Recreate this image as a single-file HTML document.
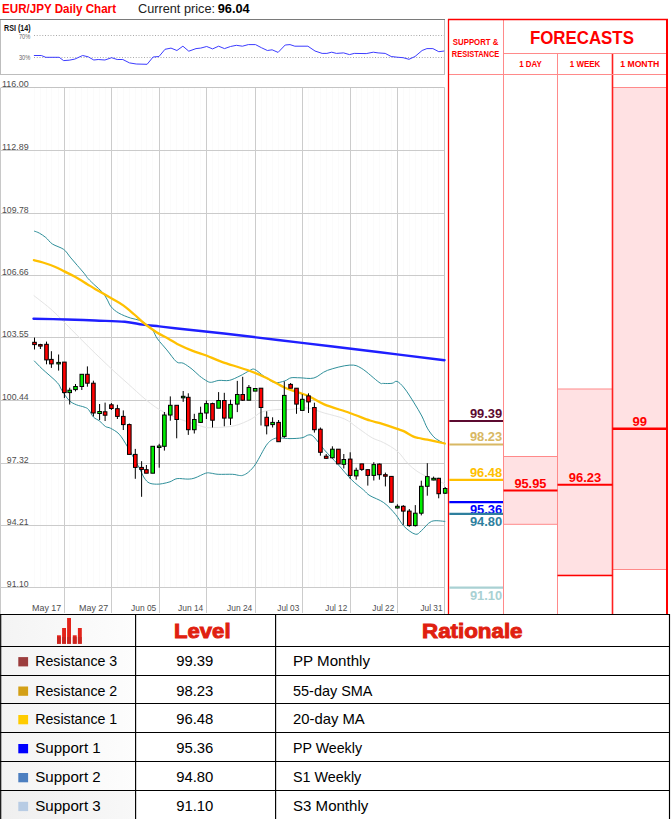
<!DOCTYPE html>
<html><head><meta charset="utf-8"><style>
html,body{margin:0;padding:0;background:#fff;}
body{width:672px;height:819px;overflow:hidden;}
svg{display:block;font-family:"Liberation Sans", sans-serif;}
</style></head><body>
<svg width="672" height="819" viewBox="0 0 672 819">
<text x="2" y="12.8" font-size="12.5" fill="#ff0000" font-weight="bold" text-anchor="start" textLength="114" lengthAdjust="spacingAndGlyphs" >EUR/JPY Daily Chart</text>
<text x="138" y="12.8" font-size="12.5" fill="#222" font-weight="normal" text-anchor="start" textLength="77" lengthAdjust="spacingAndGlyphs" >Current price:</text>
<text x="217.7" y="12.8" font-size="12.5" fill="#000" font-weight="bold" text-anchor="start" textLength="32" lengthAdjust="spacingAndGlyphs" >96.04</text>
<rect x="0.5" y="19.5" width="444" height="55" fill="#fff" stroke="#bdbdbd" stroke-width="1"/>
<line x1="0" y1="19.5" x2="445" y2="19.5" stroke="#7a7a7a" stroke-width="1.2"/>
<text x="4" y="31.2" font-size="8.7" fill="#111" font-weight="bold" text-anchor="start" textLength="26.6" lengthAdjust="spacingAndGlyphs" >RSI (14)</text>
<text x="30.2" y="39" font-size="7.2" fill="#666" font-weight="normal" text-anchor="end" textLength="11.3" lengthAdjust="spacingAndGlyphs" >70%</text>
<text x="30.2" y="60.1" font-size="7.2" fill="#666" font-weight="normal" text-anchor="end" textLength="11.3" lengthAdjust="spacingAndGlyphs" >30%</text>
<line x1="34" y1="35.5" x2="444" y2="35.5" stroke="#a8a8a8" stroke-width="1" stroke-dasharray="1,1.75"/>
<line x1="34" y1="57.5" x2="444" y2="57.5" stroke="#a8a8a8" stroke-width="1" stroke-dasharray="1,1.75"/>
<polyline fill="none" stroke="#3c3cff" stroke-width="1.0" stroke-linejoin="round" points="33.9,55.5 41.3,55.5 45.8,57.3 59.2,57.3 63.6,60.6 69.2,60.2 74.8,59.1 82.6,55.5 88.2,56.8 93.8,60 98.2,59.5 104.9,60 111.6,57.7 117.2,59.5 122.8,59.5 129.5,62.9 136.2,64 147.1,64.3 153.1,57 159,56.5 165,49.3 171,48.1 176.9,50.5 182.9,46.2 188.8,51.2 196,48.6 200.7,48.1 206.7,46.5 212.6,48.9 218.6,46.2 224.5,48.6 230.5,46.5 236.4,45.3 242.4,46.2 248.3,44.6 255.5,44.6 261.4,47.7 267.4,50.5 272.1,49.8 278.1,52.4 285.2,45 290,44.6 294.8,46.2 307.9,46.2 315,51 322.1,53.4 326.9,53.4 331.7,52.2 336.4,53.4 343.6,52.9 349.5,54.6 354.3,53.4 366.2,53.6 373.3,52.2 378.1,52.9 385.2,53.4 391.2,56.5 397.1,57.2 403.1,57.7 409,59.3 415,56.5 422.1,50.5 426.9,48.6 432.9,48.6 438.8,51.7 444.3,51"/>
<line x1="34.5" y1="87.5" x2="34.5" y2="587.5" stroke="#fbfbfb" stroke-width="1"/>
<line x1="40.5" y1="87.5" x2="40.5" y2="587.5" stroke="#fbfbfb" stroke-width="1"/>
<line x1="46.5" y1="87.5" x2="46.5" y2="587.5" stroke="#fbfbfb" stroke-width="1"/>
<line x1="51.5" y1="87.5" x2="51.5" y2="587.5" stroke="#fbfbfb" stroke-width="1"/>
<line x1="58.5" y1="87.5" x2="58.5" y2="587.5" stroke="#fbfbfb" stroke-width="1"/>
<line x1="64.5" y1="87.5" x2="64.5" y2="587.5" stroke="#fbfbfb" stroke-width="1"/>
<line x1="69.5" y1="87.5" x2="69.5" y2="587.5" stroke="#fbfbfb" stroke-width="1"/>
<line x1="75.5" y1="87.5" x2="75.5" y2="587.5" stroke="#fbfbfb" stroke-width="1"/>
<line x1="81.5" y1="87.5" x2="81.5" y2="587.5" stroke="#fbfbfb" stroke-width="1"/>
<line x1="87.5" y1="87.5" x2="87.5" y2="587.5" stroke="#fbfbfb" stroke-width="1"/>
<line x1="93.5" y1="87.5" x2="93.5" y2="587.5" stroke="#fbfbfb" stroke-width="1"/>
<line x1="99.5" y1="87.5" x2="99.5" y2="587.5" stroke="#fbfbfb" stroke-width="1"/>
<line x1="105.5" y1="87.5" x2="105.5" y2="587.5" stroke="#fbfbfb" stroke-width="1"/>
<line x1="111.5" y1="87.5" x2="111.5" y2="587.5" stroke="#fbfbfb" stroke-width="1"/>
<line x1="117.5" y1="87.5" x2="117.5" y2="587.5" stroke="#fbfbfb" stroke-width="1"/>
<line x1="123.5" y1="87.5" x2="123.5" y2="587.5" stroke="#fbfbfb" stroke-width="1"/>
<line x1="129.5" y1="87.5" x2="129.5" y2="587.5" stroke="#fbfbfb" stroke-width="1"/>
<line x1="135.5" y1="87.5" x2="135.5" y2="587.5" stroke="#fbfbfb" stroke-width="1"/>
<line x1="141.5" y1="87.5" x2="141.5" y2="587.5" stroke="#fbfbfb" stroke-width="1"/>
<line x1="146.5" y1="87.5" x2="146.5" y2="587.5" stroke="#fbfbfb" stroke-width="1"/>
<line x1="152.5" y1="87.5" x2="152.5" y2="587.5" stroke="#fbfbfb" stroke-width="1"/>
<line x1="159.5" y1="87.5" x2="159.5" y2="587.5" stroke="#fbfbfb" stroke-width="1"/>
<line x1="164.5" y1="87.5" x2="164.5" y2="587.5" stroke="#fbfbfb" stroke-width="1"/>
<line x1="170.5" y1="87.5" x2="170.5" y2="587.5" stroke="#fbfbfb" stroke-width="1"/>
<line x1="176.5" y1="87.5" x2="176.5" y2="587.5" stroke="#fbfbfb" stroke-width="1"/>
<line x1="183.5" y1="87.5" x2="183.5" y2="587.5" stroke="#fbfbfb" stroke-width="1"/>
<line x1="188.5" y1="87.5" x2="188.5" y2="587.5" stroke="#fbfbfb" stroke-width="1"/>
<line x1="194.5" y1="87.5" x2="194.5" y2="587.5" stroke="#fbfbfb" stroke-width="1"/>
<line x1="200.5" y1="87.5" x2="200.5" y2="587.5" stroke="#fbfbfb" stroke-width="1"/>
<line x1="206.5" y1="87.5" x2="206.5" y2="587.5" stroke="#fbfbfb" stroke-width="1"/>
<line x1="212.5" y1="87.5" x2="212.5" y2="587.5" stroke="#fbfbfb" stroke-width="1"/>
<line x1="218.5" y1="87.5" x2="218.5" y2="587.5" stroke="#fbfbfb" stroke-width="1"/>
<line x1="224.5" y1="87.5" x2="224.5" y2="587.5" stroke="#fbfbfb" stroke-width="1"/>
<line x1="230.5" y1="87.5" x2="230.5" y2="587.5" stroke="#fbfbfb" stroke-width="1"/>
<line x1="237.5" y1="87.5" x2="237.5" y2="587.5" stroke="#fbfbfb" stroke-width="1"/>
<line x1="242.5" y1="87.5" x2="242.5" y2="587.5" stroke="#fbfbfb" stroke-width="1"/>
<line x1="248.5" y1="87.5" x2="248.5" y2="587.5" stroke="#fbfbfb" stroke-width="1"/>
<line x1="255.5" y1="87.5" x2="255.5" y2="587.5" stroke="#fbfbfb" stroke-width="1"/>
<line x1="261.5" y1="87.5" x2="261.5" y2="587.5" stroke="#fbfbfb" stroke-width="1"/>
<line x1="266.5" y1="87.5" x2="266.5" y2="587.5" stroke="#fbfbfb" stroke-width="1"/>
<line x1="272.5" y1="87.5" x2="272.5" y2="587.5" stroke="#fbfbfb" stroke-width="1"/>
<line x1="278.5" y1="87.5" x2="278.5" y2="587.5" stroke="#fbfbfb" stroke-width="1"/>
<line x1="284.5" y1="87.5" x2="284.5" y2="587.5" stroke="#fbfbfb" stroke-width="1"/>
<line x1="290.5" y1="87.5" x2="290.5" y2="587.5" stroke="#fbfbfb" stroke-width="1"/>
<line x1="296.5" y1="87.5" x2="296.5" y2="587.5" stroke="#fbfbfb" stroke-width="1"/>
<line x1="302.5" y1="87.5" x2="302.5" y2="587.5" stroke="#fbfbfb" stroke-width="1"/>
<line x1="308.5" y1="87.5" x2="308.5" y2="587.5" stroke="#fbfbfb" stroke-width="1"/>
<line x1="314.5" y1="87.5" x2="314.5" y2="587.5" stroke="#fbfbfb" stroke-width="1"/>
<line x1="320.5" y1="87.5" x2="320.5" y2="587.5" stroke="#fbfbfb" stroke-width="1"/>
<line x1="326.5" y1="87.5" x2="326.5" y2="587.5" stroke="#fbfbfb" stroke-width="1"/>
<line x1="332.5" y1="87.5" x2="332.5" y2="587.5" stroke="#fbfbfb" stroke-width="1"/>
<line x1="338.5" y1="87.5" x2="338.5" y2="587.5" stroke="#fbfbfb" stroke-width="1"/>
<line x1="343.5" y1="87.5" x2="343.5" y2="587.5" stroke="#fbfbfb" stroke-width="1"/>
<line x1="350.5" y1="87.5" x2="350.5" y2="587.5" stroke="#fbfbfb" stroke-width="1"/>
<line x1="356.5" y1="87.5" x2="356.5" y2="587.5" stroke="#fbfbfb" stroke-width="1"/>
<line x1="361.5" y1="87.5" x2="361.5" y2="587.5" stroke="#fbfbfb" stroke-width="1"/>
<line x1="367.5" y1="87.5" x2="367.5" y2="587.5" stroke="#fbfbfb" stroke-width="1"/>
<line x1="373.5" y1="87.5" x2="373.5" y2="587.5" stroke="#fbfbfb" stroke-width="1"/>
<line x1="379.5" y1="87.5" x2="379.5" y2="587.5" stroke="#fbfbfb" stroke-width="1"/>
<line x1="385.5" y1="87.5" x2="385.5" y2="587.5" stroke="#fbfbfb" stroke-width="1"/>
<line x1="391.5" y1="87.5" x2="391.5" y2="587.5" stroke="#fbfbfb" stroke-width="1"/>
<line x1="397.5" y1="87.5" x2="397.5" y2="587.5" stroke="#fbfbfb" stroke-width="1"/>
<line x1="403.5" y1="87.5" x2="403.5" y2="587.5" stroke="#fbfbfb" stroke-width="1"/>
<line x1="409.5" y1="87.5" x2="409.5" y2="587.5" stroke="#fbfbfb" stroke-width="1"/>
<line x1="415.5" y1="87.5" x2="415.5" y2="587.5" stroke="#fbfbfb" stroke-width="1"/>
<line x1="421.5" y1="87.5" x2="421.5" y2="587.5" stroke="#fbfbfb" stroke-width="1"/>
<line x1="427.5" y1="87.5" x2="427.5" y2="587.5" stroke="#fbfbfb" stroke-width="1"/>
<line x1="433.5" y1="87.5" x2="433.5" y2="587.5" stroke="#fbfbfb" stroke-width="1"/>
<line x1="438.5" y1="87.5" x2="438.5" y2="587.5" stroke="#fbfbfb" stroke-width="1"/>
<line x1="1" y1="87.5" x2="444.5" y2="87.5" stroke="#cbcbcb" stroke-width="1"/>
<text x="28.6" y="86.6" font-size="9.3" fill="#4d4d4d" font-weight="normal" text-anchor="end" textLength="26.6" lengthAdjust="spacingAndGlyphs" >116.00</text>
<line x1="1" y1="150.5" x2="444.5" y2="150.5" stroke="#cbcbcb" stroke-width="1"/>
<text x="28.6" y="149.6" font-size="9.3" fill="#4d4d4d" font-weight="normal" text-anchor="end" textLength="26.6" lengthAdjust="spacingAndGlyphs" >112.89</text>
<line x1="1" y1="213.5" x2="444.5" y2="213.5" stroke="#cbcbcb" stroke-width="1"/>
<text x="28.6" y="212.6" font-size="9.3" fill="#4d4d4d" font-weight="normal" text-anchor="end" textLength="26.6" lengthAdjust="spacingAndGlyphs" >109.78</text>
<line x1="1" y1="275.5" x2="444.5" y2="275.5" stroke="#cbcbcb" stroke-width="1"/>
<text x="28.6" y="274.6" font-size="9.3" fill="#4d4d4d" font-weight="normal" text-anchor="end" textLength="26.6" lengthAdjust="spacingAndGlyphs" >106.66</text>
<line x1="1" y1="337.5" x2="444.5" y2="337.5" stroke="#cbcbcb" stroke-width="1"/>
<text x="28.6" y="336.6" font-size="9.3" fill="#4d4d4d" font-weight="normal" text-anchor="end" textLength="26.6" lengthAdjust="spacingAndGlyphs" >103.55</text>
<line x1="1" y1="400.5" x2="444.5" y2="400.5" stroke="#cbcbcb" stroke-width="1"/>
<text x="28.6" y="399.6" font-size="9.3" fill="#4d4d4d" font-weight="normal" text-anchor="end" textLength="26.6" lengthAdjust="spacingAndGlyphs" >100.44</text>
<line x1="1" y1="463.5" x2="444.5" y2="463.5" stroke="#cbcbcb" stroke-width="1"/>
<text x="28.6" y="462.6" font-size="9.3" fill="#4d4d4d" font-weight="normal" text-anchor="end" textLength="21.8" lengthAdjust="spacingAndGlyphs" >97.32</text>
<line x1="1" y1="525.5" x2="444.5" y2="525.5" stroke="#cbcbcb" stroke-width="1"/>
<text x="28.6" y="524.6" font-size="9.3" fill="#4d4d4d" font-weight="normal" text-anchor="end" textLength="21.8" lengthAdjust="spacingAndGlyphs" >94.21</text>
<line x1="1" y1="587.5" x2="444.5" y2="587.5" stroke="#cbcbcb" stroke-width="1"/>
<text x="28.6" y="586.6" font-size="9.3" fill="#4d4d4d" font-weight="normal" text-anchor="end" textLength="21.8" lengthAdjust="spacingAndGlyphs" >91.10</text>
<line x1="64.5" y1="87.5" x2="64.5" y2="613" stroke="#cccccc" stroke-width="1"/>
<text x="61.3" y="611.2" font-size="8.6" fill="#4e4e4e" font-weight="normal" text-anchor="end" textLength="29.3" lengthAdjust="spacingAndGlyphs" >May 17</text>
<line x1="111.5" y1="87.5" x2="111.5" y2="613" stroke="#cccccc" stroke-width="1"/>
<text x="108.3" y="611.2" font-size="8.6" fill="#4e4e4e" font-weight="normal" text-anchor="end" textLength="29.3" lengthAdjust="spacingAndGlyphs" >May 27</text>
<line x1="159.5" y1="87.5" x2="159.5" y2="613" stroke="#cccccc" stroke-width="1"/>
<text x="156.3" y="611.2" font-size="8.6" fill="#4e4e4e" font-weight="normal" text-anchor="end" textLength="25.3" lengthAdjust="spacingAndGlyphs" >Jun 05</text>
<line x1="206.5" y1="87.5" x2="206.5" y2="613" stroke="#cccccc" stroke-width="1"/>
<text x="203.3" y="611.2" font-size="8.6" fill="#4e4e4e" font-weight="normal" text-anchor="end" textLength="25.3" lengthAdjust="spacingAndGlyphs" >Jun 14</text>
<line x1="255.5" y1="87.5" x2="255.5" y2="613" stroke="#cccccc" stroke-width="1"/>
<text x="252.3" y="611.2" font-size="8.6" fill="#4e4e4e" font-weight="normal" text-anchor="end" textLength="25.3" lengthAdjust="spacingAndGlyphs" >Jun 24</text>
<line x1="302.5" y1="87.5" x2="302.5" y2="613" stroke="#cccccc" stroke-width="1"/>
<text x="299.3" y="611.2" font-size="8.6" fill="#4e4e4e" font-weight="normal" text-anchor="end" textLength="22" lengthAdjust="spacingAndGlyphs" >Jul 03</text>
<line x1="350.5" y1="87.5" x2="350.5" y2="613" stroke="#cccccc" stroke-width="1"/>
<text x="347.3" y="611.2" font-size="8.6" fill="#4e4e4e" font-weight="normal" text-anchor="end" textLength="22" lengthAdjust="spacingAndGlyphs" >Jul 12</text>
<line x1="397.5" y1="87.5" x2="397.5" y2="613" stroke="#cccccc" stroke-width="1"/>
<text x="394.3" y="611.2" font-size="8.6" fill="#4e4e4e" font-weight="normal" text-anchor="end" textLength="22" lengthAdjust="spacingAndGlyphs" >Jul 22</text>
<text x="442.5" y="611.2" font-size="8.6" fill="#4e4e4e" font-weight="normal" text-anchor="end" textLength="22" lengthAdjust="spacingAndGlyphs" >Jul 31</text>
<line x1="1" y1="87.5" x2="444.5" y2="87.5" stroke="#c4c4c4" stroke-width="1"/>
<line x1="0.5" y1="87.5" x2="0.5" y2="614" stroke="#c8c8c8" stroke-width="1"/>
<line x1="444.5" y1="87.5" x2="444.5" y2="614" stroke="#c4c4c4" stroke-width="1"/>
<path fill="none" stroke="#e4e4e4" stroke-width="1" stroke-linejoin="round" stroke-linecap="round"  d="M34.0,295.7 C37.1,298.2 46.2,304.9 52.4,310.5 C58.6,316.1 64.3,322.4 71.4,329.5 C78.5,336.6 86.5,344.9 95.2,353.3 C103.9,361.7 113.0,370.6 123.8,380.0 C134.6,389.4 147.3,402.4 160.0,410.0 C172.7,417.6 191.1,422.9 200.0,425.8 C208.9,428.7 208.0,427.5 213.7,427.5 C219.4,427.5 227.9,427.2 234.2,425.8 C240.5,424.4 246.8,421.3 251.3,419.0 C255.9,416.7 257.2,413.7 261.5,412.1 C265.8,410.5 272.1,410.0 276.9,409.6 C281.6,409.2 285.0,409.9 290.0,409.6 C295.0,409.3 301.4,407.3 307.1,407.9 C312.8,408.5 317.9,411.1 324.2,413.0 C330.5,414.9 339.0,416.4 344.7,419.0 C350.4,421.6 353.8,425.3 358.4,428.4 C363.0,431.5 367.9,435.4 372.1,437.8 C376.3,440.2 379.5,440.4 383.7,442.7 C387.9,444.9 393.4,447.9 397.4,451.3 C401.4,454.7 404.2,459.8 407.6,463.2 C411.0,466.6 414.2,469.4 417.9,471.8 C421.6,474.2 425.3,475.8 429.8,477.8 C434.3,479.8 442.4,482.8 444.9,483.8"/>
<path fill="none" stroke="#2f8f9a" stroke-width="1" stroke-linejoin="round" stroke-linecap="round"  d="M34.5,231.2 C35.3,231.5 37.4,232.0 39.3,233.1 C41.2,234.2 43.6,235.7 45.8,237.5 C48.0,239.3 49.4,242.0 52.4,244.0 C55.4,246.0 60.7,247.2 63.7,249.4 C66.7,251.6 67.9,254.4 70.2,257.1 C72.5,259.8 75.0,262.7 77.4,265.5 C79.8,268.3 82.7,271.6 84.5,273.8 C86.3,276.0 86.3,276.7 88.1,278.6 C89.8,280.5 92.7,283.2 95.0,285.4 C97.3,287.6 100.1,289.6 102.1,291.9 C104.1,294.2 105.4,296.5 106.9,299.0 C108.4,301.5 109.1,304.4 111.1,306.8 C113.1,309.2 115.5,311.2 118.8,313.1 C122.1,315.0 127.1,316.9 130.7,318.1 C134.3,319.3 137.4,319.3 140.2,320.5 C143.0,321.7 145.2,323.4 147.4,325.2 C149.6,327.0 151.6,328.9 153.3,331.2 C155.0,333.5 155.2,335.8 157.5,338.9 C159.8,342.0 163.6,346.1 166.8,349.9 C170.0,353.7 173.8,359.6 176.5,361.8 C179.2,364.0 180.6,362.0 183.2,363.2 C185.8,364.4 189.4,367.1 192.1,369.2 C194.8,371.3 197.0,373.9 199.5,375.9 C202.0,377.9 205.0,380.0 207.0,381.1 C209.0,382.2 209.4,382.4 211.4,382.3 C213.4,382.2 215.9,380.7 218.9,380.4 C221.9,380.1 225.8,381.1 229.3,380.4 C232.8,379.6 236.6,377.5 240.0,375.9 C243.4,374.3 247.2,371.7 249.6,370.6 C252.0,369.5 252.3,368.4 254.7,369.4 C257.1,370.3 260.7,374.1 264.0,376.3 C267.3,378.5 270.9,381.7 274.4,382.5 C277.9,383.3 282.0,381.7 284.8,380.9 C287.6,380.1 288.5,378.3 291.0,377.8 C293.5,377.3 296.2,377.8 300.0,377.8 C303.8,377.8 309.3,379.2 313.9,378.0 C318.5,376.8 321.6,372.4 327.6,370.3 C333.6,368.2 344.1,365.4 349.8,365.1 C355.5,364.8 357.0,365.6 361.8,368.5 C366.6,371.4 375.3,379.7 378.9,382.2 C382.5,384.7 381.1,383.2 383.3,383.4 C385.5,383.6 389.8,383.6 392.1,383.3 C394.4,383.0 395.0,380.6 397.0,381.4 C399.0,382.2 401.3,384.4 404.2,388.0 C407.1,391.6 411.2,398.2 414.1,402.9 C417.0,407.6 419.6,411.8 421.8,416.0 C424.0,420.2 425.3,424.6 427.3,428.1 C429.3,431.6 431.8,434.8 433.8,436.9 C435.8,439.0 437.5,439.7 439.3,440.8 C441.1,441.9 443.9,443.1 444.8,443.5"/>
<path fill="none" stroke="#2f8f9a" stroke-width="1" stroke-linejoin="round" stroke-linecap="round"  d="M34.4,361.0 C35.7,362.3 38.5,365.4 42.3,369.0 C46.1,372.6 54.0,379.0 57.2,382.5 C60.4,386.0 59.7,387.0 61.7,390.0 C63.7,393.0 66.6,397.9 69.1,400.4 C71.6,402.9 74.0,403.7 76.5,404.8 C79.0,405.9 82.0,406.2 84.0,407.0 C86.0,407.8 86.8,407.7 88.4,409.4 C90.0,411.1 91.7,415.2 93.5,417.1 C95.3,419.0 97.5,419.4 99.5,421.0 C101.5,422.6 103.7,425.3 105.5,426.5 C107.3,427.7 108.3,427.0 110.6,428.3 C112.9,429.6 116.4,431.2 119.2,434.2 C122.0,437.2 124.9,442.5 127.3,446.4 C129.7,450.3 131.4,453.7 133.4,457.4 C135.4,461.1 137.7,464.9 139.5,468.4 C141.3,471.8 142.8,475.7 144.4,478.1 C146.0,480.5 147.3,482.0 149.3,483.0 C151.3,484.0 154.4,484.1 156.6,484.2 C158.8,484.3 160.5,484.0 162.7,483.6 C164.9,483.2 167.6,482.6 170.0,481.8 C172.4,481.0 174.1,479.1 177.1,478.6 C180.1,478.2 184.9,479.2 187.9,479.1 C190.9,479.0 192.0,478.9 195.0,477.9 C198.0,476.9 203.0,474.0 205.7,473.2 C208.4,472.4 209.0,473.0 211.1,473.2 C213.2,473.4 214.6,474.1 218.2,474.3 C221.8,474.5 228.9,474.1 232.5,474.3 C236.1,474.5 237.8,475.4 239.6,475.5 C241.4,475.6 241.7,475.8 243.2,475.2 C244.7,474.6 246.5,473.9 248.6,472.0 C250.7,470.1 252.7,468.4 255.7,463.9 C258.7,459.4 263.4,449.4 266.4,445.2 C269.4,441.0 271.2,440.1 273.6,438.9 C276.0,437.7 278.0,438.1 280.7,438.0 C283.4,437.9 286.4,438.6 290.0,438.6 C293.6,438.6 298.9,438.4 302.0,437.8 C305.1,437.2 306.8,435.0 308.8,434.9 C310.8,434.8 311.3,434.4 313.9,436.9 C316.5,439.4 320.2,445.1 324.2,449.7 C328.2,454.3 333.3,459.3 337.9,464.3 C342.4,469.3 347.2,475.4 351.5,479.7 C355.8,484.0 360.4,487.2 363.5,489.9 C366.6,492.6 366.6,493.6 370.0,495.7 C373.4,497.8 379.4,499.5 383.7,502.6 C388.0,505.7 392.2,510.5 395.6,514.5 C399.0,518.5 400.9,523.2 404.2,526.5 C407.5,529.8 412.4,533.5 415.3,534.2 C418.2,534.9 418.6,532.9 421.3,530.8 C424.0,528.7 427.6,523.0 431.5,521.4 C435.4,519.8 442.7,521.4 444.9,521.4"/>
<path fill="none" stroke="#1f1fff" stroke-width="2.4" stroke-linejoin="round" stroke-linecap="round"  d="M33.5,318.8 C39.0,318.9 56.5,319.2 66.7,319.5 C77.0,319.8 85.3,320.1 95.0,320.5 C104.7,320.9 116.9,321.0 124.8,321.7 C132.7,322.4 136.8,323.8 142.6,324.6 C148.3,325.4 153.9,325.8 159.3,326.4 C164.7,327.0 164.2,327.0 175.0,328.2 C185.8,329.4 203.2,331.1 224.0,333.5 C244.8,335.9 274.0,339.5 300.0,342.6 C326.0,345.7 355.9,349.4 380.0,352.3 C404.1,355.2 433.8,358.9 444.5,360.2"/>
<path fill="none" stroke="#ffc000" stroke-width="2.3" stroke-linejoin="round" stroke-linecap="round"  d="M33.9,260.1 C35.4,260.5 39.4,261.4 42.9,262.5 C46.4,263.6 51.2,265.2 54.8,266.7 C58.4,268.2 60.9,269.7 64.3,271.4 C67.7,273.1 71.2,274.7 75.0,276.8 C78.8,278.9 83.6,281.9 86.9,283.9 C90.2,285.9 90.9,286.5 95.0,288.9 C99.1,291.3 106.9,295.7 111.7,298.5 C116.5,301.3 119.8,302.9 123.6,305.6 C127.4,308.3 130.7,311.4 134.3,314.5 C137.9,317.6 141.2,321.0 145.0,324.0 C148.8,327.0 152.9,329.9 156.9,332.4 C160.9,334.9 165.4,337.0 168.8,338.9 C172.2,340.8 173.3,341.9 177.2,343.9 C181.1,345.8 187.1,348.6 192.1,350.6 C197.1,352.6 202.1,353.9 207.0,355.8 C211.9,357.7 214.6,359.3 221.8,361.8 C229.0,364.3 242.6,368.3 250.0,371.0 C257.4,373.7 260.4,375.1 266.0,377.8 C271.6,380.5 278.9,384.9 283.8,387.2 C288.7,389.5 290.8,389.8 295.2,391.4 C299.6,393.0 305.2,394.6 310.0,396.8 C314.8,399.0 317.6,401.7 324.2,404.4 C330.8,407.1 342.2,410.3 349.8,413.0 C357.4,415.7 365.0,418.8 370.0,420.5 C375.0,422.2 375.6,421.8 380.0,423.2 C384.4,424.6 392.5,427.3 396.5,428.7 C400.5,430.1 401.4,430.1 404.2,431.4 C406.9,432.7 410.6,435.3 413.0,436.4 C415.4,437.5 416.1,437.4 418.5,438.0 C420.9,438.6 422.9,438.8 427.3,439.7 C431.7,440.6 441.9,442.9 444.8,443.5"/>
<line x1="34.5" y1="337.6" x2="34.5" y2="349.5" stroke="#000" stroke-width="1"/>
<rect x="32.7" y="342.3" width="3.6" height="2.3" fill="#ff0000" stroke="#000" stroke-width="1"/>
<line x1="40.4" y1="343.8" x2="40.4" y2="349.0" stroke="#000" stroke-width="1"/>
<rect x="38.6" y="344.6" width="3.6" height="1.5" fill="#ff0000" stroke="#000" stroke-width="1"/>
<line x1="46.5" y1="341.6" x2="46.5" y2="364.3" stroke="#000" stroke-width="1"/>
<rect x="44.7" y="344.3" width="3.6" height="15.6" fill="#ff0000" stroke="#000" stroke-width="1"/>
<line x1="51.4" y1="351.2" x2="51.4" y2="367.9" stroke="#000" stroke-width="1"/>
<rect x="49.6" y="359.4" width="3.6" height="4.5" fill="#ff0000" stroke="#000" stroke-width="1"/>
<line x1="58.6" y1="354.5" x2="58.6" y2="370.6" stroke="#000" stroke-width="1"/>
<rect x="56.8" y="362.4" width="3.6" height="1.5" fill="#00ee00" stroke="#000" stroke-width="1"/>
<line x1="64.4" y1="362.0" x2="64.4" y2="398.0" stroke="#000" stroke-width="1"/>
<rect x="62.6" y="362.1" width="3.6" height="30.5" fill="#ff0000" stroke="#000" stroke-width="1"/>
<line x1="69.7" y1="387.7" x2="69.7" y2="404.5" stroke="#000" stroke-width="1"/>
<rect x="67.9" y="390.2" width="3.6" height="2.4" fill="#00ee00" stroke="#000" stroke-width="1"/>
<line x1="75.5" y1="384.0" x2="75.5" y2="391.4" stroke="#000" stroke-width="1"/>
<rect x="73.7" y="386.5" width="3.6" height="3.1" fill="#00ee00" stroke="#000" stroke-width="1"/>
<line x1="81.8" y1="374.3" x2="81.8" y2="390.0" stroke="#000" stroke-width="1"/>
<rect x="80.0" y="374.3" width="3.6" height="12.2" fill="#00ee00" stroke="#000" stroke-width="1"/>
<line x1="87.4" y1="366.4" x2="87.4" y2="386.7" stroke="#000" stroke-width="1"/>
<rect x="85.6" y="374.3" width="3.6" height="8.9" fill="#ff0000" stroke="#000" stroke-width="1"/>
<line x1="93.4" y1="380.7" x2="93.4" y2="416.4" stroke="#000" stroke-width="1"/>
<rect x="91.6" y="383.2" width="3.6" height="29.8" fill="#ff0000" stroke="#000" stroke-width="1"/>
<line x1="99.6" y1="404.0" x2="99.6" y2="420.0" stroke="#000" stroke-width="1"/>
<rect x="97.8" y="411.5" width="3.6" height="2.0" fill="#00ee00" stroke="#000" stroke-width="1"/>
<line x1="105.1" y1="402.6" x2="105.1" y2="421.0" stroke="#000" stroke-width="1"/>
<rect x="103.3" y="411.8" width="3.6" height="3.4" fill="#ff0000" stroke="#000" stroke-width="1"/>
<line x1="111.4" y1="403.0" x2="111.4" y2="410.0" stroke="#000" stroke-width="1"/>
<rect x="109.6" y="404.8" width="3.6" height="3.7" fill="#ff0000" stroke="#000" stroke-width="1"/>
<line x1="117.4" y1="404.8" x2="117.4" y2="419.0" stroke="#000" stroke-width="1"/>
<rect x="115.6" y="408.7" width="3.6" height="7.7" fill="#ff0000" stroke="#000" stroke-width="1"/>
<line x1="123.3" y1="410.4" x2="123.3" y2="430.0" stroke="#000" stroke-width="1"/>
<rect x="121.5" y="416.4" width="3.6" height="8.2" fill="#ff0000" stroke="#000" stroke-width="1"/>
<line x1="129.3" y1="423.5" x2="129.3" y2="454.4" stroke="#000" stroke-width="1"/>
<rect x="127.5" y="424.6" width="3.6" height="29.8" fill="#ff0000" stroke="#000" stroke-width="1"/>
<line x1="135.3" y1="448.9" x2="135.3" y2="478.8" stroke="#000" stroke-width="1"/>
<rect x="133.5" y="454.4" width="3.6" height="13.0" fill="#ff0000" stroke="#000" stroke-width="1"/>
<line x1="141.6" y1="461.2" x2="141.6" y2="496.8" stroke="#000" stroke-width="1"/>
<rect x="139.8" y="467.4" width="3.6" height="2.0" fill="#ff0000" stroke="#000" stroke-width="1"/>
<line x1="146.4" y1="465.0" x2="146.4" y2="473.2" stroke="#000" stroke-width="1"/>
<rect x="144.6" y="469.7" width="3.6" height="3.5" fill="#ff0000" stroke="#000" stroke-width="1"/>
<line x1="152.7" y1="446.3" x2="152.7" y2="473.2" stroke="#000" stroke-width="1"/>
<rect x="150.9" y="446.3" width="3.6" height="26.9" fill="#00ee00" stroke="#000" stroke-width="1"/>
<line x1="159.2" y1="443.8" x2="159.2" y2="467.7" stroke="#000" stroke-width="1"/>
<rect x="157.4" y="446.0" width="3.6" height="1.5" fill="#00ee00" stroke="#000" stroke-width="1"/>
<line x1="164.4" y1="412.0" x2="164.4" y2="450.6" stroke="#000" stroke-width="1"/>
<rect x="162.6" y="415.0" width="3.6" height="31.3" fill="#00ee00" stroke="#000" stroke-width="1"/>
<line x1="170.3" y1="396.4" x2="170.3" y2="420.7" stroke="#000" stroke-width="1"/>
<rect x="168.5" y="405.3" width="3.6" height="9.7" fill="#00ee00" stroke="#000" stroke-width="1"/>
<line x1="176.7" y1="405.3" x2="176.7" y2="438.3" stroke="#000" stroke-width="1"/>
<rect x="174.9" y="405.3" width="3.6" height="14.2" fill="#ff0000" stroke="#000" stroke-width="1"/>
<line x1="183.2" y1="391.0" x2="183.2" y2="401.9" stroke="#000" stroke-width="1"/>
<rect x="181.4" y="396.3" width="3.6" height="1.5" fill="#00ee00" stroke="#000" stroke-width="1"/>
<line x1="188.3" y1="393.3" x2="188.3" y2="434.9" stroke="#000" stroke-width="1"/>
<rect x="186.5" y="397.3" width="3.6" height="32.4" fill="#ff0000" stroke="#000" stroke-width="1"/>
<line x1="194.3" y1="413.8" x2="194.3" y2="433.5" stroke="#000" stroke-width="1"/>
<rect x="192.5" y="419.5" width="3.6" height="10.2" fill="#00ee00" stroke="#000" stroke-width="1"/>
<line x1="200.6" y1="406.7" x2="200.6" y2="423.0" stroke="#000" stroke-width="1"/>
<rect x="198.8" y="413.3" width="3.6" height="9.1" fill="#00ee00" stroke="#000" stroke-width="1"/>
<line x1="206.4" y1="400.5" x2="206.4" y2="419.0" stroke="#000" stroke-width="1"/>
<rect x="204.6" y="403.6" width="3.6" height="9.4" fill="#00ee00" stroke="#000" stroke-width="1"/>
<line x1="212.5" y1="402.7" x2="212.5" y2="427.5" stroke="#000" stroke-width="1"/>
<rect x="210.7" y="403.6" width="3.6" height="16.6" fill="#ff0000" stroke="#000" stroke-width="1"/>
<line x1="218.6" y1="392.1" x2="218.6" y2="408.0" stroke="#000" stroke-width="1"/>
<rect x="216.8" y="400.5" width="3.6" height="7.7" fill="#00ee00" stroke="#000" stroke-width="1"/>
<line x1="224.3" y1="392.8" x2="224.3" y2="426.3" stroke="#000" stroke-width="1"/>
<rect x="222.5" y="400.5" width="3.6" height="17.6" fill="#ff0000" stroke="#000" stroke-width="1"/>
<line x1="230.5" y1="399.7" x2="230.5" y2="425.0" stroke="#000" stroke-width="1"/>
<rect x="228.7" y="404.4" width="3.6" height="13.7" fill="#00ee00" stroke="#000" stroke-width="1"/>
<line x1="237.3" y1="380.9" x2="237.3" y2="412.1" stroke="#000" stroke-width="1"/>
<rect x="235.5" y="394.5" width="3.6" height="9.6" fill="#00ee00" stroke="#000" stroke-width="1"/>
<line x1="242.7" y1="376.8" x2="242.7" y2="401.0" stroke="#000" stroke-width="1"/>
<rect x="240.9" y="394.5" width="3.6" height="5.7" fill="#ff0000" stroke="#000" stroke-width="1"/>
<line x1="248.9" y1="385.0" x2="248.9" y2="400.2" stroke="#000" stroke-width="1"/>
<rect x="247.1" y="387.4" width="3.6" height="12.8" fill="#00ee00" stroke="#000" stroke-width="1"/>
<line x1="255.2" y1="388.0" x2="255.2" y2="391.1" stroke="#000" stroke-width="1"/>
<rect x="253.4" y="388.5" width="3.6" height="2.6" fill="#00ee00" stroke="#000" stroke-width="1"/>
<line x1="261" y1="388.2" x2="261" y2="425.5" stroke="#000" stroke-width="1"/>
<rect x="259.2" y="388.2" width="3.6" height="19.3" fill="#ff0000" stroke="#000" stroke-width="1"/>
<line x1="266.7" y1="411.3" x2="266.7" y2="434.4" stroke="#000" stroke-width="1"/>
<rect x="264.9" y="417.3" width="3.6" height="8.5" fill="#ff0000" stroke="#000" stroke-width="1"/>
<line x1="272.6" y1="417.3" x2="272.6" y2="427.5" stroke="#000" stroke-width="1"/>
<rect x="270.8" y="422.4" width="3.6" height="2.2" fill="#00ee00" stroke="#000" stroke-width="1"/>
<line x1="278.6" y1="420.0" x2="278.6" y2="441.7" stroke="#000" stroke-width="1"/>
<rect x="276.8" y="422.4" width="3.6" height="19.3" fill="#ff0000" stroke="#000" stroke-width="1"/>
<line x1="284.3" y1="381.4" x2="284.3" y2="437.8" stroke="#000" stroke-width="1"/>
<rect x="282.5" y="395.4" width="3.6" height="41.0" fill="#00ee00" stroke="#000" stroke-width="1"/>
<line x1="290.6" y1="383.0" x2="290.6" y2="388.2" stroke="#000" stroke-width="1"/>
<rect x="288.8" y="384.4" width="3.6" height="3.8" fill="#ff0000" stroke="#000" stroke-width="1"/>
<line x1="296.5" y1="388.2" x2="296.5" y2="413.8" stroke="#000" stroke-width="1"/>
<rect x="294.7" y="388.2" width="3.6" height="15.9" fill="#ff0000" stroke="#000" stroke-width="1"/>
<line x1="302.3" y1="394.2" x2="302.3" y2="410.4" stroke="#000" stroke-width="1"/>
<rect x="300.5" y="399.3" width="3.6" height="11.1" fill="#00ee00" stroke="#000" stroke-width="1"/>
<line x1="308.5" y1="393.3" x2="308.5" y2="413.0" stroke="#000" stroke-width="1"/>
<rect x="306.7" y="395.9" width="3.6" height="6.0" fill="#ff0000" stroke="#000" stroke-width="1"/>
<line x1="314.4" y1="402.7" x2="314.4" y2="432.6" stroke="#000" stroke-width="1"/>
<rect x="312.6" y="407.5" width="3.6" height="22.2" fill="#ff0000" stroke="#000" stroke-width="1"/>
<line x1="320.4" y1="427.5" x2="320.4" y2="455.7" stroke="#000" stroke-width="1"/>
<rect x="318.6" y="429.2" width="3.6" height="23.1" fill="#ff0000" stroke="#000" stroke-width="1"/>
<line x1="326.2" y1="454.0" x2="326.2" y2="459.0" stroke="#000" stroke-width="1"/>
<rect x="324.4" y="456.2" width="3.6" height="2.1" fill="#ff0000" stroke="#000" stroke-width="1"/>
<line x1="332.4" y1="446.3" x2="332.4" y2="458.3" stroke="#000" stroke-width="1"/>
<rect x="330.6" y="449.2" width="3.6" height="8.6" fill="#00ee00" stroke="#000" stroke-width="1"/>
<line x1="338.4" y1="449.0" x2="338.4" y2="464.0" stroke="#000" stroke-width="1"/>
<rect x="336.6" y="449.2" width="3.6" height="14.7" fill="#ff0000" stroke="#000" stroke-width="1"/>
<line x1="343.8" y1="454.0" x2="343.8" y2="468.5" stroke="#000" stroke-width="1"/>
<rect x="342.0" y="459.5" width="3.6" height="4.8" fill="#00ee00" stroke="#000" stroke-width="1"/>
<line x1="350.2" y1="452.3" x2="350.2" y2="478.8" stroke="#000" stroke-width="1"/>
<rect x="348.4" y="459.1" width="3.6" height="16.3" fill="#ff0000" stroke="#000" stroke-width="1"/>
<line x1="356.2" y1="467.7" x2="356.2" y2="479.7" stroke="#000" stroke-width="1"/>
<rect x="354.4" y="470.3" width="3.6" height="5.6" fill="#00ee00" stroke="#000" stroke-width="1"/>
<line x1="361.8" y1="463.9" x2="361.8" y2="471.0" stroke="#000" stroke-width="1"/>
<rect x="360.0" y="463.9" width="3.6" height="5.5" fill="#ff0000" stroke="#000" stroke-width="1"/>
<line x1="367.8" y1="469.4" x2="367.8" y2="485.6" stroke="#000" stroke-width="1"/>
<rect x="366.0" y="469.7" width="3.6" height="5.7" fill="#ff0000" stroke="#000" stroke-width="1"/>
<line x1="373.8" y1="462.2" x2="373.8" y2="480.5" stroke="#000" stroke-width="1"/>
<rect x="372.0" y="464.6" width="3.6" height="10.8" fill="#00ee00" stroke="#000" stroke-width="1"/>
<line x1="379.4" y1="463.4" x2="379.4" y2="479.7" stroke="#000" stroke-width="1"/>
<rect x="377.6" y="464.1" width="3.6" height="10.6" fill="#ff0000" stroke="#000" stroke-width="1"/>
<line x1="385.4" y1="472.6" x2="385.4" y2="486.4" stroke="#000" stroke-width="1"/>
<rect x="383.6" y="474.7" width="3.6" height="1.5" fill="#ff0000" stroke="#000" stroke-width="1"/>
<line x1="391.4" y1="476.0" x2="391.4" y2="502.5" stroke="#000" stroke-width="1"/>
<rect x="389.6" y="476.4" width="3.6" height="25.8" fill="#ff0000" stroke="#000" stroke-width="1"/>
<line x1="397.4" y1="504.3" x2="397.4" y2="508.5" stroke="#000" stroke-width="1"/>
<rect x="395.6" y="506.3" width="3.6" height="1.7" fill="#00ee00" stroke="#000" stroke-width="1"/>
<line x1="403.3" y1="505.1" x2="403.3" y2="524.8" stroke="#000" stroke-width="1"/>
<rect x="401.5" y="506.3" width="3.6" height="4.8" fill="#ff0000" stroke="#000" stroke-width="1"/>
<line x1="409.3" y1="509.0" x2="409.3" y2="526.8" stroke="#000" stroke-width="1"/>
<rect x="407.5" y="511.1" width="3.6" height="14.5" fill="#ff0000" stroke="#000" stroke-width="1"/>
<line x1="415.3" y1="505.1" x2="415.3" y2="526.5" stroke="#000" stroke-width="1"/>
<rect x="413.5" y="513.2" width="3.6" height="12.4" fill="#00ee00" stroke="#000" stroke-width="1"/>
<line x1="421.3" y1="480.7" x2="421.3" y2="515.4" stroke="#000" stroke-width="1"/>
<rect x="419.5" y="486.3" width="3.6" height="26.9" fill="#00ee00" stroke="#000" stroke-width="1"/>
<line x1="427.3" y1="463.2" x2="427.3" y2="495.7" stroke="#000" stroke-width="1"/>
<rect x="425.5" y="476.6" width="3.6" height="9.7" fill="#00ee00" stroke="#000" stroke-width="1"/>
<line x1="433.6" y1="476.6" x2="433.6" y2="480.3" stroke="#000" stroke-width="1"/>
<rect x="431.8" y="478.3" width="3.6" height="1.7" fill="#00ee00" stroke="#000" stroke-width="1"/>
<line x1="438.7" y1="477.8" x2="438.7" y2="498.3" stroke="#000" stroke-width="1"/>
<rect x="436.9" y="478.3" width="3.6" height="15.4" fill="#ff0000" stroke="#000" stroke-width="1"/>
<line x1="445.2" y1="487.0" x2="445.2" y2="494.0" stroke="#000" stroke-width="1"/>
<rect x="443.4" y="488.5" width="3.6" height="4.7" fill="#00ee00" stroke="#000" stroke-width="1"/>
<rect x="612.5" y="87.5" width="54.5" height="482" fill="#ffe1e3" stroke="#ff8a8a" stroke-width="1"/>
<rect x="557.5" y="389" width="55" height="186.3" fill="#ffe1e3" stroke="#ff8a8a" stroke-width="1"/>
<rect x="503.5" y="456.5" width="54" height="67.8" fill="#ffe1e3" stroke="#ff8a8a" stroke-width="1"/>
<line x1="503.5" y1="19.5" x2="503.5" y2="614" stroke="#ff8a8a" stroke-width="1"/>
<line x1="557.5" y1="53.5" x2="557.5" y2="614" stroke="#ff8a8a" stroke-width="1"/>
<line x1="612.5" y1="53.5" x2="612.5" y2="614" stroke="#ff2020" stroke-width="1.6"/>
<line x1="503.5" y1="53.5" x2="667" y2="53.5" stroke="#ff8a8a" stroke-width="1"/>
<line x1="448.5" y1="74.5" x2="667" y2="74.5" stroke="#ff8a8a" stroke-width="1"/>
<line x1="448.5" y1="19" x2="448.5" y2="614" stroke="#ff0000" stroke-width="1.3"/>
<line x1="448" y1="19.5" x2="668" y2="19.5" stroke="#ff0000" stroke-width="1.6"/>
<line x1="667" y1="19" x2="667" y2="614" stroke="#ff0000" stroke-width="2"/>
<text x="475.6" y="45.2" font-size="8.8" fill="#ff0000" font-weight="bold" text-anchor="middle" textLength="45.5" lengthAdjust="spacingAndGlyphs" >SUPPORT &amp;</text>
<text x="475.6" y="57.1" font-size="8.8" fill="#ff0000" font-weight="bold" text-anchor="middle" textLength="47.5" lengthAdjust="spacingAndGlyphs" >RESISTANCE</text>
<text x="581.9" y="44.2" font-size="19" fill="#ff0000" font-weight="bold" text-anchor="middle" textLength="104" lengthAdjust="spacingAndGlyphs" >FORECASTS</text>
<text x="530.5" y="67.1" font-size="8.8" fill="#ff0000" font-weight="bold" text-anchor="middle" textLength="22.6" lengthAdjust="spacingAndGlyphs" >1 DAY</text>
<text x="585" y="67.1" font-size="8.8" fill="#ff0000" font-weight="bold" text-anchor="middle" textLength="30.5" lengthAdjust="spacingAndGlyphs" >1 WEEK</text>
<text x="639.7" y="67.1" font-size="8.8" fill="#ff0000" font-weight="bold" text-anchor="middle" textLength="39" lengthAdjust="spacingAndGlyphs" >1 MONTH</text>
<line x1="449.3" y1="421" x2="503" y2="421" stroke="#5c0a30" stroke-width="2.2"/>
<text x="502.2" y="418.2" font-size="12" fill="#5c0a30" font-weight="bold" text-anchor="end" textLength="32.3" lengthAdjust="spacingAndGlyphs" >99.39</text>
<line x1="449.3" y1="444.5" x2="503" y2="444.5" stroke="#d8b864" stroke-width="2.2"/>
<text x="502.2" y="441.3" font-size="12" fill="#d8b864" font-weight="bold" text-anchor="end" textLength="32.3" lengthAdjust="spacingAndGlyphs" >98.23</text>
<line x1="449.3" y1="479.8" x2="503" y2="479.8" stroke="#ffc000" stroke-width="2.2"/>
<text x="502.2" y="476.6" font-size="12" fill="#ffc000" font-weight="bold" text-anchor="end" textLength="32.3" lengthAdjust="spacingAndGlyphs" >96.48</text>
<line x1="449.3" y1="502.1" x2="503" y2="502.1" stroke="#0000ff" stroke-width="2.2"/>
<text x="502.2" y="514.3" font-size="12" fill="#0000ff" font-weight="bold" text-anchor="end" textLength="32.3" lengthAdjust="spacingAndGlyphs" >95.36</text>
<line x1="449.3" y1="513.8" x2="503" y2="513.8" stroke="#2e7f9e" stroke-width="2.2"/>
<text x="502.2" y="525.7" font-size="12" fill="#2e7f9e" font-weight="bold" text-anchor="end" textLength="32.3" lengthAdjust="spacingAndGlyphs" >94.80</text>
<line x1="449.3" y1="587.7" x2="503" y2="587.7" stroke="#a9d1d3" stroke-width="2.2"/>
<text x="502.2" y="599.8" font-size="12" fill="#a9d1d3" font-weight="bold" text-anchor="end" textLength="32.3" lengthAdjust="spacingAndGlyphs" >91.10</text>
<line x1="503.5" y1="490.5" x2="557.5" y2="490.5" stroke="#ff0000" stroke-width="2.1"/>
<text x="530.4" y="487.6" font-size="12" fill="#ff0000" font-weight="bold" text-anchor="middle" textLength="32" lengthAdjust="spacingAndGlyphs" >95.95</text>
<line x1="557.5" y1="484.7" x2="612.5" y2="484.7" stroke="#ff0000" stroke-width="2.1"/>
<line x1="557.5" y1="575.5" x2="612.5" y2="575.5" stroke="#ff0000" stroke-width="1.6"/>
<text x="585" y="482" font-size="12" fill="#ff0000" font-weight="bold" text-anchor="middle" textLength="32.5" lengthAdjust="spacingAndGlyphs" >96.23</text>
<line x1="612.5" y1="428.8" x2="667" y2="428.8" stroke="#ff0000" stroke-width="2.4"/>
<text x="639.7" y="425.7" font-size="12" fill="#ff0000" font-weight="bold" text-anchor="middle" textLength="14.5" lengthAdjust="spacingAndGlyphs" >99</text>
<rect x="0" y="614.5" width="670" height="205" fill="#fff"/>
<defs><linearGradient id="tg" x1="0" y1="0" x2="1" y2="0"><stop offset="0" stop-color="#f4f4f4"/><stop offset="1" stop-color="#fdfdfd"/></linearGradient><linearGradient id="tg2" x1="0" y1="0" x2="1" y2="0"><stop offset="0" stop-color="#efefef"/><stop offset="1" stop-color="#f8f8f8"/></linearGradient></defs>
<rect x="0.5" y="614.5" width="135" height="176" fill="url(#tg)"/>
<rect x="0.5" y="790.5" width="135" height="29" fill="url(#tg2)"/>
<line x1="0" y1="614.5" x2="670" y2="614.5" stroke="#000" stroke-width="1.15"/>
<line x1="0" y1="646.5" x2="670" y2="646.5" stroke="#000" stroke-width="1.15"/>
<line x1="0" y1="675.5" x2="670" y2="675.5" stroke="#000" stroke-width="1.15"/>
<line x1="0" y1="703.5" x2="670" y2="703.5" stroke="#000" stroke-width="1.15"/>
<line x1="0" y1="732.5" x2="670" y2="732.5" stroke="#000" stroke-width="1.15"/>
<line x1="0" y1="761.5" x2="670" y2="761.5" stroke="#000" stroke-width="1.15"/>
<line x1="0" y1="790.5" x2="670" y2="790.5" stroke="#000" stroke-width="1.15"/>
<line x1="0.7" y1="614" x2="0.7" y2="819" stroke="#000" stroke-width="1.15"/>
<line x1="135.6" y1="614" x2="135.6" y2="819" stroke="#000" stroke-width="1.15"/>
<line x1="275.6" y1="614" x2="275.6" y2="819" stroke="#000" stroke-width="1.15"/>
<line x1="669.5" y1="614" x2="669.5" y2="819" stroke="#000" stroke-width="1.15"/>
<rect x="57" y="635.3" width="3.9" height="8.5" fill="#e2231a"/>
<rect x="57" y="637" width="3.9" height="6.8" fill="#c52420" opacity="0.8"/>
<rect x="62.1" y="628" width="3.9" height="15.8" fill="#e2231a"/>
<rect x="62.1" y="637" width="3.9" height="6.8" fill="#c52420" opacity="0.8"/>
<rect x="67.1" y="618" width="3.9" height="25.8" fill="#e2231a"/>
<rect x="67.1" y="637" width="3.9" height="6.8" fill="#c52420" opacity="0.8"/>
<rect x="72.8" y="635.3" width="3.9" height="8.5" fill="#e2231a"/>
<rect x="72.8" y="637" width="3.9" height="6.8" fill="#c52420" opacity="0.8"/>
<rect x="77.9" y="628" width="3.9" height="15.8" fill="#e2231a"/>
<rect x="77.9" y="637" width="3.9" height="6.8" fill="#c52420" opacity="0.8"/>
<text x="202.3" y="637.8" font-size="19.5" fill="#e0200f" font-weight="bold" text-anchor="middle" textLength="56.5" lengthAdjust="spacingAndGlyphs" stroke="#e0200f" stroke-width="0.9">Level</text>
<text x="472.3" y="637.8" font-size="19.5" fill="#e0200f" font-weight="bold" text-anchor="middle" textLength="100.5" lengthAdjust="spacingAndGlyphs" stroke="#e0200f" stroke-width="0.9">Rationale</text>
<rect x="18.3" y="657.1" width="9.8" height="9.3" fill="#9c3d3d"/>
<text x="35.2" y="666.4" font-size="14.2" fill="#000" font-weight="normal" text-anchor="start" textLength="82" lengthAdjust="spacingAndGlyphs" >Resistance 3</text>
<text x="176.2" y="666.4" font-size="14.2" fill="#000" font-weight="normal" text-anchor="start" textLength="37.2" lengthAdjust="spacingAndGlyphs" >99.39</text>
<text x="293" y="666.4" font-size="14.2" fill="#000" font-weight="normal" text-anchor="start" textLength="77" lengthAdjust="spacingAndGlyphs" >PP Monthly</text>
<rect x="18.3" y="686.5" width="9.8" height="9.3" fill="#d3a017"/>
<text x="35.2" y="695.8" font-size="14.2" fill="#000" font-weight="normal" text-anchor="start" textLength="82" lengthAdjust="spacingAndGlyphs" >Resistance 2</text>
<text x="176.2" y="695.8" font-size="14.2" fill="#000" font-weight="normal" text-anchor="start" textLength="37.2" lengthAdjust="spacingAndGlyphs" >98.23</text>
<text x="293" y="695.8" font-size="14.2" fill="#000" font-weight="normal" text-anchor="start" textLength="79.5" lengthAdjust="spacingAndGlyphs" >55-day SMA</text>
<rect x="18.3" y="715.0" width="9.8" height="9.3" fill="#ffcc00"/>
<text x="35.2" y="724.3" font-size="14.2" fill="#000" font-weight="normal" text-anchor="start" textLength="82" lengthAdjust="spacingAndGlyphs" >Resistance 1</text>
<text x="176.2" y="724.3" font-size="14.2" fill="#000" font-weight="normal" text-anchor="start" textLength="37.2" lengthAdjust="spacingAndGlyphs" >96.48</text>
<text x="293" y="724.3" font-size="14.2" fill="#000" font-weight="normal" text-anchor="start" textLength="71.7" lengthAdjust="spacingAndGlyphs" >20-day MA</text>
<rect x="18.3" y="744.0" width="9.8" height="9.3" fill="#0000ff"/>
<text x="35.2" y="753.3" font-size="14.2" fill="#000" font-weight="normal" text-anchor="start" textLength="65.5" lengthAdjust="spacingAndGlyphs" >Support 1</text>
<text x="176.2" y="753.3" font-size="14.2" fill="#000" font-weight="normal" text-anchor="start" textLength="37.2" lengthAdjust="spacingAndGlyphs" >95.36</text>
<text x="293" y="753.3" font-size="14.2" fill="#000" font-weight="normal" text-anchor="start" textLength="69" lengthAdjust="spacingAndGlyphs" >PP Weekly</text>
<rect x="18.3" y="773.0" width="9.8" height="9.3" fill="#4d7fc0"/>
<text x="35.2" y="782.3" font-size="14.2" fill="#000" font-weight="normal" text-anchor="start" textLength="65.5" lengthAdjust="spacingAndGlyphs" >Support 2</text>
<text x="176.2" y="782.3" font-size="14.2" fill="#000" font-weight="normal" text-anchor="start" textLength="37.2" lengthAdjust="spacingAndGlyphs" >94.80</text>
<text x="293" y="782.3" font-size="14.2" fill="#000" font-weight="normal" text-anchor="start" textLength="68.3" lengthAdjust="spacingAndGlyphs" >S1 Weekly</text>
<rect x="18.3" y="801.8" width="9.8" height="9.3" fill="#b8cce4"/>
<text x="35.2" y="811.0" font-size="14.2" fill="#000" font-weight="normal" text-anchor="start" textLength="65.5" lengthAdjust="spacingAndGlyphs" >Support 3</text>
<text x="176.2" y="811.0" font-size="14.2" fill="#000" font-weight="normal" text-anchor="start" textLength="37.2" lengthAdjust="spacingAndGlyphs" >91.10</text>
<text x="293" y="811.0" font-size="14.2" fill="#000" font-weight="normal" text-anchor="start" textLength="75.3" lengthAdjust="spacingAndGlyphs" >S3 Monthly</text>
</svg>
</body></html>
